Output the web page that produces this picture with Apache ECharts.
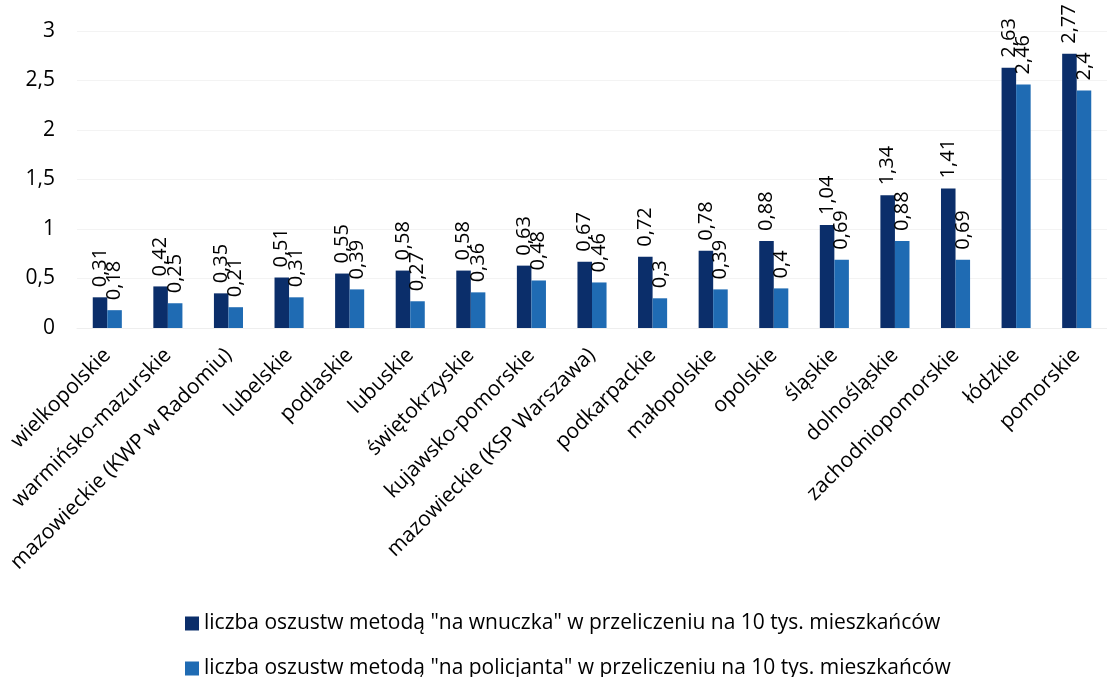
<!DOCTYPE html>
<html><head><meta charset="utf-8">
<script src="https://cdn.jsdelivr.net/npm/echarts@6/dist/echarts.min.js"></script>
<style>html,body{margin:0;padding:0;background:#fff}#c{width:1107px;height:677px}</style>
</head><body><div id="c"></div>
<script>
const categories = ["wielkopolskie","warmińsko-mazurskie","mazowieckie (KWP w Radomiu)","lubelskie","podlaskie","lubuskie","świętokrzyskie","kujawsko-pomorskie","mazowieckie (KSP Warszawa)","podkarpackie","małopolskie","opolskie","śląskie","dolnośląskie","zachodniopomorskie","łódzkie","pomorskie"];
const wnuczka = [0.31,0.42,0.35,0.51,0.55,0.58,0.58,0.63,0.67,0.72,0.78,0.88,1.04,1.34,1.41,2.63,2.77];
const policjanta = [0.18,0.25,0.21,0.31,0.39,0.27,0.36,0.48,0.46,0.3,0.39,0.4,0.69,0.88,0.69,2.46,2.4];
const seriesNames = ['liczba oszustw metodą "na wnuczka" w przeliczeniu na 10 tys. mieszkańców','liczba oszustw metodą "na policjanta" w przeliczeniu na 10 tys. mieszkańców'];
const fmt = v => String(v).replace('.', ',');
const FONT = 'Open Sans';
const chart = echarts.init(document.getElementById('c'));
const lbl = {show:true, position:'top', rotate:90, align:'left', verticalAlign:'middle', distance:10, fontFamily:FONT, fontSize:20, color:'#000', formatter:p=>fmt(p.value)};
const legTxt = {fontFamily:FONT, fontSize:21, color:'#000'};
chart.setOption({
  animation:false,
  textStyle:{fontFamily:FONT},
  grid:{left:77, right:-4, top:31, bottom:349, containLabel:false},
  legend:[
    {left:180, top:608, itemWidth:14, itemHeight:14, icon:'rect', textStyle:legTxt, data:[seriesNames[0]]},
    {left:180, top:653, itemWidth:14, itemHeight:14, icon:'rect', textStyle:legTxt, data:[seriesNames[1]]}
  ],
  xAxis:{type:'category', data:categories, axisTick:{show:false},
    axisLine:{lineStyle:{color:'#eeeeee'}},
    axisLabel:{rotate:45, interval:0, fontFamily:FONT, fontSize:21, color:'#000', margin:24}},
  yAxis:{type:'value', min:0, max:3, interval:0.5, axisLine:{show:false}, axisTick:{show:false},
    splitLine:{lineStyle:{color:'#f3f3f3'}},
    axisLabel:{fontFamily:FONT, fontSize:21, color:'#000', margin:22, formatter:v=>fmt(v)}},
  series:[
    {name:seriesNames[0], type:'bar', data:wnuczka, barWidth:'24%', barGap:'0%', itemStyle:{color:'#0b2e6a'}, label:lbl},
    {name:seriesNames[1], type:'bar', data:policjanta, barWidth:'24%', barGap:'0%', itemStyle:{color:'#1f6bb3'}, label:lbl}
  ]
});
</script></body></html>
